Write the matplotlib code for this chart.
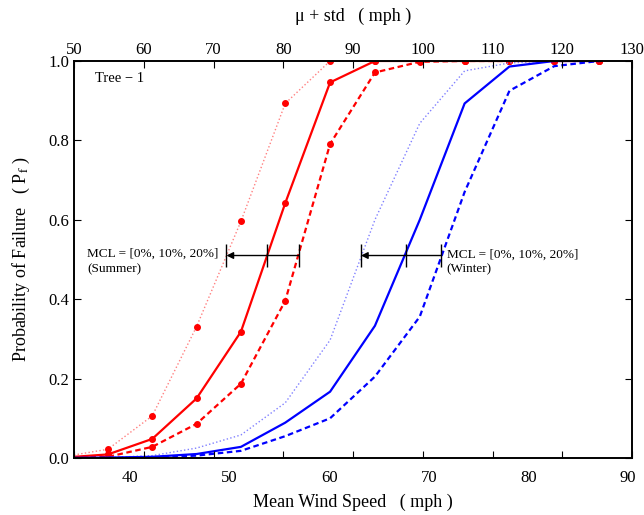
import numpy as np
import matplotlib
matplotlib.use("Agg")
import matplotlib.pyplot as plt

plt.rcParams['font.family'] = ['Liberation Serif', 'DejaVu Serif']
plt.rcParams['mathtext.fontset'] = 'stix'

# mean wind speed (mph), one point every 2 m/s; first point lies left of the axis
wind_mph = [33.3, 37.8, 42.25, 46.7, 51.15, 55.6, 60.1, 64.6, 69.1, 73.6, 78.1, 82.6, 87.1]

# probability of failure, summer, MCL = 0%, 10%, 20%
pf_summer_0 = [0.003, 0.022, 0.106, 0.331, 0.596, 0.893, 1.0, 1.0, 1.0, 1.0, 1.0, 1.0, 1.0]
pf_summer_10 = [0.001, 0.009, 0.048, 0.150, 0.318, 0.642, 0.946, 1.0, 1.0, 1.0, 1.0, 1.0, 1.0]
pf_summer_20 = [0.0, 0.003, 0.028, 0.086, 0.187, 0.396, 0.791, 0.971, 0.998, 1.0, 1.0, 1.0, 1.0]

# probability of failure, winter, MCL = 0%, 10%, 20%
pf_winter_0 = [0.0, 0.001, 0.006, 0.025, 0.058, 0.139, 0.297, 0.600, 0.843, 0.975, 0.995, 1.0, 1.0]
pf_winter_10 = [0.0, 0.001, 0.003, 0.010, 0.028, 0.089, 0.167, 0.333, 0.600, 0.893, 0.986, 1.0, 1.0]
pf_winter_20 = [0.0, 0.0, 0.001, 0.006, 0.018, 0.055, 0.100, 0.205, 0.356, 0.670, 0.925, 0.987, 1.0]

# MCL arrows: x positions (mph) of the 0%, 10%, 20% marks, y level
mcl_summer = [49.7, 53.8, 57.0]
mcl_winter = [63.2, 67.7, 71.2]
mcl_y = 0.51

fig = plt.figure(figsize=(6.44, 5.15), dpi=100)
ax = fig.add_axes([0.1149, 0.1107, 0.8665, 0.7709])

red = '#ff0000'
blue = '#0000ff'
ax.plot(wind_mph, pf_summer_0, color='#ff8080', lw=1.0, ls=':', marker='o',
        ms=4, mfc=red, mec=red)
ax.plot(wind_mph, pf_summer_10, color=red, lw=1.6, ls='-', marker='o',
        ms=4, mfc=red, mec=red)
ax.plot(wind_mph, pf_summer_20, color=red, lw=1.6, ls=(0, (2.5, 1.6)), marker='o',
        ms=4, mfc=red, mec=red)
ax.plot(wind_mph, pf_winter_0, color='#8080ff', lw=1.0, ls=':')
ax.plot(wind_mph, pf_winter_10, color=blue, lw=1.6, ls='-')
ax.plot(wind_mph, pf_winter_20, color=blue, lw=1.6, ls=(0, (2.5, 1.6)))

for marks in (mcl_summer, mcl_winter):
    ax.annotate('', xy=(marks[0], mcl_y), xytext=(marks[2], mcl_y),
                arrowprops=dict(arrowstyle='-|>', color='k', lw=1.0,
                                mutation_scale=10, shrinkA=0, shrinkB=0))
    ax.vlines(marks, mcl_y - 0.028, mcl_y + 0.028, color='k', lw=1.0)

ax.text(35.7, 0.495, 'MCL = [0%, 10%, 20%]\n(Summer)', fontsize=9.5,
        va='center', ha='left', linespacing=1.3)
ax.text(71.8, 0.493, 'MCL = [0%, 10%, 20%]\n(Winter)', fontsize=9.5,
        va='center', ha='left', linespacing=1.3)
ax.text(36.5, 0.955, 'Tree \u2212 1', fontsize=10.5, va='center', ha='left')

ax.set_xlim(34.4, 90.4)
ax.set_ylim(0, 1)
ax.set_xticks([40, 50, 60, 70, 80, 90])
ax.set_yticks([0, 0.2, 0.4, 0.6, 0.8, 1.0])
ax.set_yticklabels(['0.0', '0.2', '0.4', '0.6', '0.8', '1.0'])
ax.tick_params(axis='x', length=0, labelsize=12, pad=9)
ax.tick_params(axis='y', direction='in', right=True, length=5, labelsize=12)
ax.set_xlabel('Mean Wind Speed   ( mph )', fontsize=13, labelpad=5)
ax.set_ylabel(r'Probability of Failure   ( P$_{\rm f}$ )', fontsize=13, labelpad=12)

ax2 = ax.twiny()
ax2.set_xlim(50, 130)
ax2.set_xticks(np.arange(50, 131, 10))
ax2.xaxis.set_ticks_position('both')
ax2.tick_params(axis='x', direction='in', length=5, labelsize=12,
                labeltop=True, labelbottom=False, pad=2)
ax2.set_xlabel('\u03bc + std   ( mph )', fontsize=13, labelpad=15)

for a in (ax, ax2):
    for s in a.spines.values():
        s.set_linewidth(1.2)

fig.savefig('out.png', dpi=100)
